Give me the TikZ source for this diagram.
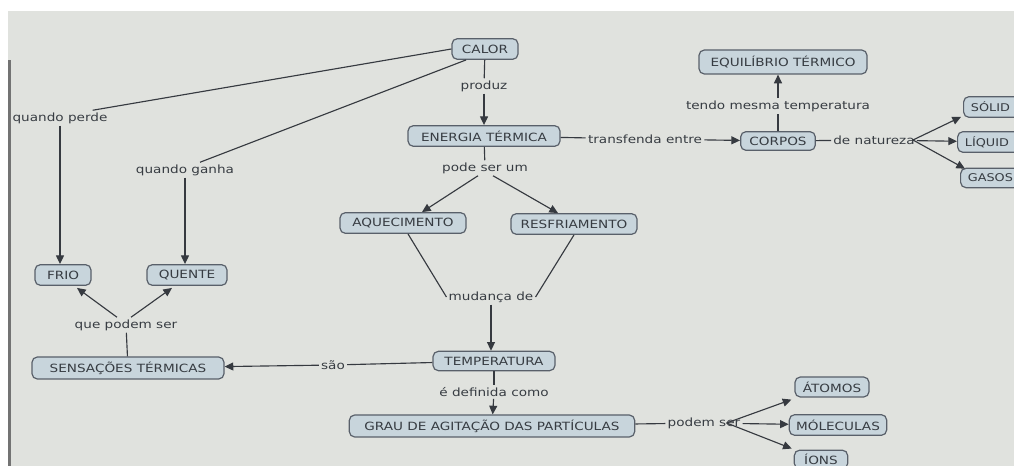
\documentclass[tikz,border=0pt]{standalone}
\usepackage{fontspec}
\setmainfont{DejaVu Sans}[FakeStretch=1.2]
\usetikzlibrary{arrows.meta,calc}
\definecolor{bg}{HTML}{E0E2DE}
\definecolor{boxfill}{HTML}{C8D5DC}
\definecolor{boxline}{HTML}{59606A}
\definecolor{ink}{HTML}{373C42}
\definecolor{wire}{HTML}{363A40}
\tikzset{
  concept/.style={draw=boxline, fill=boxfill, rounded corners=4pt, line width=0.9pt,
    text=ink, font=\fontsize{8.5}{10}\selectfont, minimum height=15.5pt, inner sep=2pt},
  edgebox/.style={concept, anchor=west, text width=60pt, align=left,
    font=\fontsize{8}{10}\selectfont, inner xsep=5.5pt},
  lbl/.style={text=ink, font=\fontsize{8.5}{10}\selectfont, inner sep=1.5pt},
  wire/.style={draw=wire, line width=0.85pt},
  arr/.style={wire, -{Triangle[length=6.5pt,width=6pt]}}
}
\begin{document}
\begin{tikzpicture}[x=0.75pt,y=-0.75pt]
\useasboundingbox (0,0) rectangle (1014,466);
\fill[white] (0,0) rectangle (1014,466);
\fill[bg] (8,11) rectangle (1014,466);
\fill[black!55] (8,60) rectangle (11,466);
\begin{scope}
\clip (8,11) rectangle (1014,466);
% concepts
\node[concept, minimum width=49.5pt] (calor) at (485,49) {CALOR};
\node[concept, minimum width=114pt] (energia) at (484,136) {ENERGIA TÉRMICA};
\node[concept, minimum width=126pt, minimum height=18pt] (equil) at (783,62) {EQUILÍBRIO TÉRMICO};
\node[concept, minimum width=56pt, minimum height=14pt] (corpos) at (778,141) {CORPOS};
\node[edgebox] (solido) at (963,107) {SÓLID};
\node[edgebox] (liquido) at (957,142) {LÍQUID};
\node[edgebox, minimum height=14.5pt] (gasoso) at (960,178) {GASOS};
\node[concept, minimum width=94.5pt] (aquec) at (403,223) {AQUECIMENTO};
\node[concept, minimum width=94.5pt] (resfr) at (574,224) {RESFRIAMENTO};
\node[concept, minimum width=42pt] (frio) at (63,275) {FRIO};
\node[concept, minimum width=60pt] (quente) at (187,275) {QUENTE};
\node[concept, minimum width=144pt, minimum height=16.5pt] (sens) at (128,368) {SENSAÇÕES TÉRMICAS};
\node[concept, minimum width=91.5pt, minimum height=14.5pt] (temp) at (494,361) {TEMPERATURA};
\node[concept, minimum width=214pt, minimum height=16.5pt] (grau) at (492,426) {GRAU DE AGITAÇÃO DAS PARTÍCULAS};
\node[concept, minimum width=55.5pt, minimum height=15pt] (atomos) at (832,387) {ÁTOMOS};
\node[concept, minimum width=73pt] (molec) at (838,425) {MÓLECULAS};
\node[concept, minimum width=40pt, minimum height=14pt] (ions) at (821,459.5) {ÍONS};
% linking phrases
\node[lbl] (produz) at (484,86) {produz};
\node[lbl] (qp) at (60,118) {quando perde};
\node[lbl] (qg) at (185,170) {quando ganha};
\node[lbl] (podeser) at (485,168) {pode ser um};
\node[lbl] (transf) at (645,139) {transfenda entre};
\node[lbl] (tendo) at (778,106) {tendo mesma temperatura};
\node[lbl] (natureza) at (874,140) {de natureza};
\node[lbl] (mudanca) at (491,297) {mudança de};
\node[lbl] (quepodem) at (126,325) {que podem ser};
\node[lbl] (sao) at (333,365) {são};
\node[lbl] (definida) at (494,392) {é definida como};
\node[lbl] (podem) at (704,423) {podem ser};
% connectors
\draw[wire] (calor) -- (produz);
\draw[arr] (produz) -- (energia);
\draw[wire] (calor.west) -- ($(qp.north east)+(-17,0)$);
\draw[wire] (calor.210) -- ($(qg.north)+(15,0)$);
\draw[arr] (qp.south) -- (qp.south |- frio.north);
\draw[arr] (qg.south) -- (qg.south |- quente.north);
\draw[wire] (energia) -- (podeser);
\draw[arr] ($(podeser.south)+(-7,0)$) -- ($(aquec.north)+(19,0)$);
\draw[arr] ($(podeser.south)+(8,0)$) -- ($(resfr.north)+(-16,0)$);
\draw[wire] (energia) -- (transf);
\draw[arr] (transf) -- (corpos);
\draw[wire] (corpos) -- (tendo);
\draw[arr] (tendo) -- (tendo |- equil.south);
\draw[wire] (corpos) -- (natureza);
\draw[arr] ($(natureza.east)+(-4,0)$) -- ($(solido.south west)+(-2,-1)$);
\draw[arr] (natureza) -- (liquido);
\draw[arr] ($(natureza.east)+(-4,0)$) -- ($(gasoso.north west)+(5,1)$);
\draw[wire] ($(aquec.south)+(5,0)$) -- (mudanca.west);
\draw[wire] (resfr.south) -- (mudanca.east);
\draw[arr] (mudanca.south) -- (mudanca.south |- temp.north);
\draw[wire] (temp) -- (sao);
\draw[arr] (sao) -- (sens);
\draw[wire] (temp) -- (definida);
\draw[arr] (definida) -- (grau);
\draw[wire] (sens) -- (quepodem);
\draw[arr] ($(quepodem.north)+(-9,0)$) -- ($(frio.south)+(14,2)$);
\draw[arr] ($(quepodem.north)+(5,0)$) -- ($(quente.south)+(-15,2)$);
\draw[wire] (grau) -- (podem);
\draw[arr] ($(podem.east)+(-16,0)$) -- ($(atomos.south west)+(-3,2)$);
\draw[arr] (podem) -- (molec);
\draw[arr] ($(podem.east)+(-16,0)$) -- ($(ions.north west)+(-2,-1)$);
\end{scope}
\end{tikzpicture}
\end{document}
